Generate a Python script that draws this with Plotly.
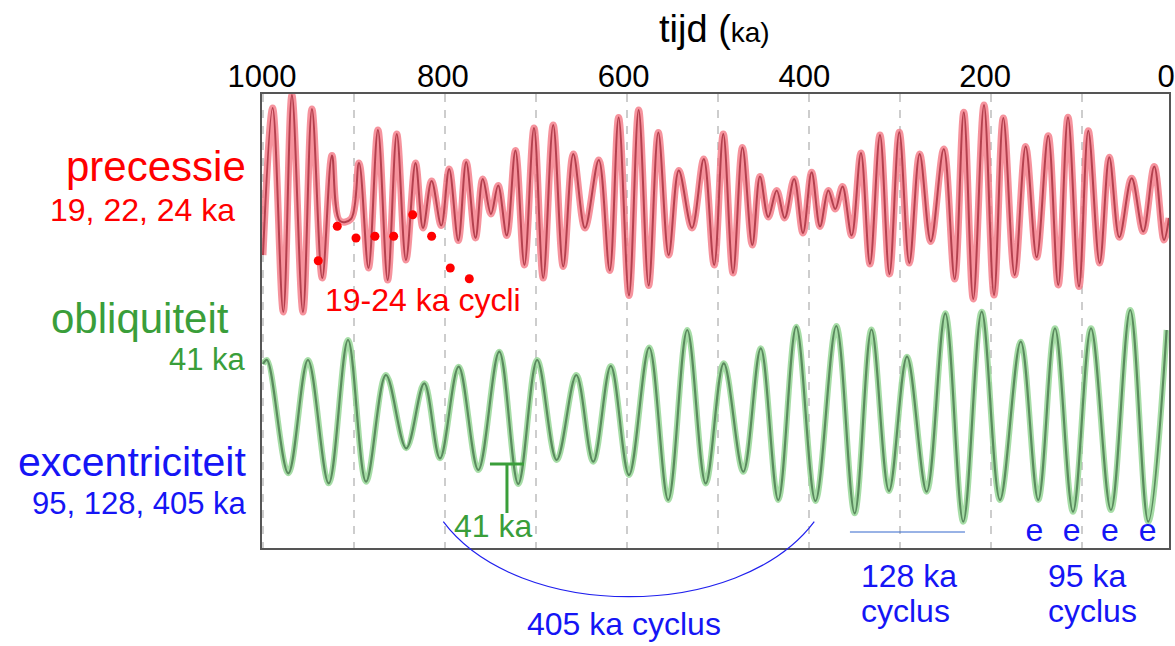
import plotly.graph_objects as go

# ---------------- data ----------------
# precession curve: turning points (time in ka, relative amplitude)
red_ka = [1000.3, 989.7, 978.0, 968.5, 956.4, 946.5, 935.2, 924.5, 915.7, 903.6,
          894.8, 884.4, 874.0, 863.3, 853.3, 843.2, 832.7, 824.5, 815.0, 804.4,
          795.7, 785.7, 777.0, 766.8, 758.8, 749.8, 741.9, 732.4, 722.9, 713.0,
          702.5, 692.4, 681.4, 670.4, 659.3, 646.5, 631.3, 619.3, 609.5, 598.1,
          587.5, 576.5, 565.9, 554.5, 543.4, 528.9, 515.9, 504.5, 494.5, 483.8,
          473.4, 462.6, 454.2, 445.1, 435.8, 427.0, 416.6, 406.9, 397.4, 388.2,
          379.1, 371.4, 363.5, 353.4, 343.2, 333.3, 322.3, 311.9, 301.1, 290.1,
          278.7, 266.5, 252.2, 240.2, 230.2, 219.8, 208.0, 197.0, 186.8, 174.3,
          162.2, 150.1, 137.4, 126.4, 115.7, 103.6, 93.4, 80.9, 70.3, 59.3,
          45.7, 33.0, 20.9, 10.2, 4.7]
red_val = [-60, 87, -117, 100, -117, 86, -83, 39.5, -26, -24,
           32, -73, 65, -85, 61, -65, 32, -33, 14, -30.5,
           26, -45.5, 33, -43, 16, -19, 9.5, -40.5, 44.5, -70,
           67, -83, 70, -71.5, 41, -33, 35, -75.5, 77.5, -100.5,
           85, -90.5, 62.5, -60, 24.5, -33, 36, -70, 61, -78,
           47.5, -50, 18.5, -22, 4.5, -23, 16, -38, 22.7, -31.5,
           4.5, -14, 8.5, -40.5, 42, -69, 60, -79, 62.7, -68,
           41, -46.5, 46, -84, 82.7, -104, 90, -100, 77, -80,
           48.5, -62.3, 59.3, -90, 77.7, -91.5, 64.3, -68, 37.7, -42.3,
           16.8, -36.5, 28.5, -45, -23]

# obliquity curve: turning points
green_ka = [1000.3, 995.9, 972.5, 950.9, 928.1, 906.9, 887.1, 865.2, 842.9, 823.1,
            805.8, 785.3, 763.7, 740.7, 719.8, 699.0, 677.6, 656.0, 637.4, 618.1,
            598.1, 575.9, 555.0, 534.1, 513.8, 494.0, 472.5, 453.3, 434.1, 414.3,
            393.2, 370.3, 350.1, 331.6, 312.4, 292.6, 271.0, 250.5, 230.8, 210.5,
            190.4, 167.6, 148.4, 130.0, 110.2, 90.4, 68.5, 47.3, 27.5, 7.3]
green_val = [56, 60, -53.3, 60, -63.3, 80, -61.7, 45, -28.3, 36.7,
             -38.3, 53.3, -50, 68.3, -64, 60, -40, 45, -41.7, 54,
             -55, 72.5, -80, 90, -63.5, 56.7, -51.7, 71.7, -80, 93.3,
             -81, 94, -93.3, 90.5, -71, 63.3, -71.7, 106.7, -101.7, 108.3,
             -80, 78.3, -80, 91.7, -91.7, 91.7, -90, 110, -101.7, 90]

# red dots marking individual precession cycles
dot_ka = [939.6, 918.7, 898.1, 877.3, 856.7, 835.8, 815.0, 794.5, 773.6]
dot_val = [-65.7, -31.3, -43, -41.3, -41.3, -19.7, -41.3, -73, -83.7]

# eccentricity 'e' markers (95 ka cycle)
e_ka = [152.7, 111.6, 69.6, 28.1]

tick_vals = [1000, 800, 600, 400, 200, 0]
tick_text = ["1000", "800", "600", "400", "200", "0"]

# ---------------- layout helpers ----------------
PREC_BASE = 353
OBL_BASE = 128
W, H = 1175, 646
L, R, T, B = 262, 1169, 94, 548


def pxx(x):
    return (x - L) / (R - L)


def pxy(y):
    return (B - y) / (B - T)


RED = "#ff0000"
GREEN = "#3a9e3a"
BLUE = "#1515f5"
FONT = "Liberation Sans"

fig = go.Figure()

red_y = [PREC_BASE + v for v in red_val]
green_y = [OBL_BASE + v for v in green_val]

fig.add_trace(go.Scatter(x=red_ka, y=red_y, mode="lines",
                         line=dict(color="rgba(244,120,132,0.8)", width=7, shape="spline", smoothing=1),
                         hoverinfo="skip", showlegend=False))
fig.add_trace(go.Scatter(x=red_ka, y=red_y, mode="lines",
                         line=dict(color="#b4404e", width=2, shape="spline", smoothing=1),
                         name="precessie", showlegend=False))
fig.add_trace(go.Scatter(x=green_ka, y=green_y, mode="lines",
                         line=dict(color="rgba(150,215,150,0.85)", width=6, shape="spline", smoothing=1),
                         hoverinfo="skip", showlegend=False))
fig.add_trace(go.Scatter(x=green_ka, y=green_y, mode="lines",
                         line=dict(color="#5a8a5e", width=2.2, shape="spline", smoothing=1),
                         name="obliquiteit", showlegend=False))
fig.add_trace(go.Scatter(x=dot_ka, y=[PREC_BASE + v for v in dot_val], mode="markers",
                         marker=dict(color=RED, size=9), showlegend=False, hoverinfo="skip"))
fig.add_trace(go.Scatter(x=e_ka, y=[15] * len(e_ka), mode="text", text=["e"] * len(e_ka),
                         textfont=dict(color=BLUE, size=32, family=FONT),
                         textposition="middle center", showlegend=False, hoverinfo="skip"))
# carrier for the top labelled time axis
fig.add_trace(go.Scatter(x=tick_vals, y=[None] * len(tick_vals), xaxis="x2", mode="markers",
                         marker=dict(opacity=0), showlegend=False, hoverinfo="skip"))

shapes = [
    # 41 ka bracket
    dict(type="line", xref="x", yref="y", x0=750.9, x1=713.5, y0=84, y1=84,
         line=dict(color=GREEN, width=3)),
    dict(type="line", xref="x", yref="y", x0=732.2, x1=732.2, y0=84, y1=35,
         line=dict(color=GREEN, width=3)),
    # 128 ka line
    dict(type="line", xref="x", yref="y", x0=355.3, x1=228.9, y0=16, y1=16,
         line=dict(color="#3366cc", width=1)),
    # 405 ka arc
    dict(type="path", xref="paper", yref="paper",
         path="M {:.4f},{:.4f} C {:.4f},{:.4f} {:.4f},{:.4f} {:.4f},{:.4f}".format(
             pxx(443.3), pxy(521.7), pxx(518.3), pxy(621.7),
             pxx(739.3), pxy(621.7), pxx(814.3), pxy(521.7)),
         line=dict(color="#2020ee", width=1.2)),
]


def ann(text, x, y, size, color, xanchor="center"):
    return dict(text=text, x=pxx(x), y=pxy(y), xref="paper", yref="paper",
                xanchor=xanchor, yanchor="middle", showarrow=False,
                font=dict(size=size, color=color, family=FONT))


annotations = [
    ann("tijd (<span style='font-size:28px'>ka)</span>", 714, 29, 38, "black"),
    ann("precessie", 248, 166, 42, RED, "right"),
    ann("19, 22, 24 ka", 237, 210, 32, RED, "right"),
    ann("19-24 ka cycli", 423, 300, 32, RED),
    ann("obliquiteit", 231, 318, 42, GREEN, "right"),
    ann("41 ka", 248, 359, 31, GREEN, "right"),
    ann("41 ka", 493, 526, 32, GREEN),
    ann("excentriciteit", 248, 462, 41, BLUE, "right"),
    ann("95, 128, 405 ka", 248, 503, 31, BLUE, "right"),
    ann("405 ka cyclus", 624, 624, 32, BLUE),
    ann("128 ka", 859, 576, 32, BLUE, "left"),
    ann("cyclus", 859, 611, 32, BLUE, "left"),
    ann("95 ka", 1046, 576, 32, BLUE, "left"),
    ann("cyclus", 1046, 611, 32, BLUE, "left"),
]

fig.update_layout(
    width=W, height=H,
    margin=dict(l=L, r=W - R, t=T, b=H - B, pad=0, autoexpand=False),
    paper_bgcolor="white", plot_bgcolor="white",
    font=dict(family=FONT, color="black"),
    xaxis=dict(range=[1001.4, 4.7], showgrid=True, gridcolor="#cdcdcd", gridwidth=2,
               griddash="8px,8px", tick0=0, dtick=100, showticklabels=False, ticks="",
               zeroline=False, showline=True, linecolor="#555555", linewidth=1.5, mirror=True,
               automargin=False),
    xaxis2=dict(overlaying="x", side="top", anchor="y", range=[1000, -3.3],
                tickmode="array", tickvals=tick_vals, ticktext=tick_text,
                tickfont=dict(size=31, color="black", family=FONT),
                showgrid=False, ticks="", zeroline=False, showline=False, automargin=False),
    yaxis=dict(range=[0, B - T], showgrid=False, showticklabels=False, ticks="",
               zeroline=False, showline=True, linecolor="#555555", linewidth=1.5, mirror=True,
               automargin=False),
    shapes=shapes,
    annotations=annotations,
    showlegend=False,
)

fig.write_html("out.html")
